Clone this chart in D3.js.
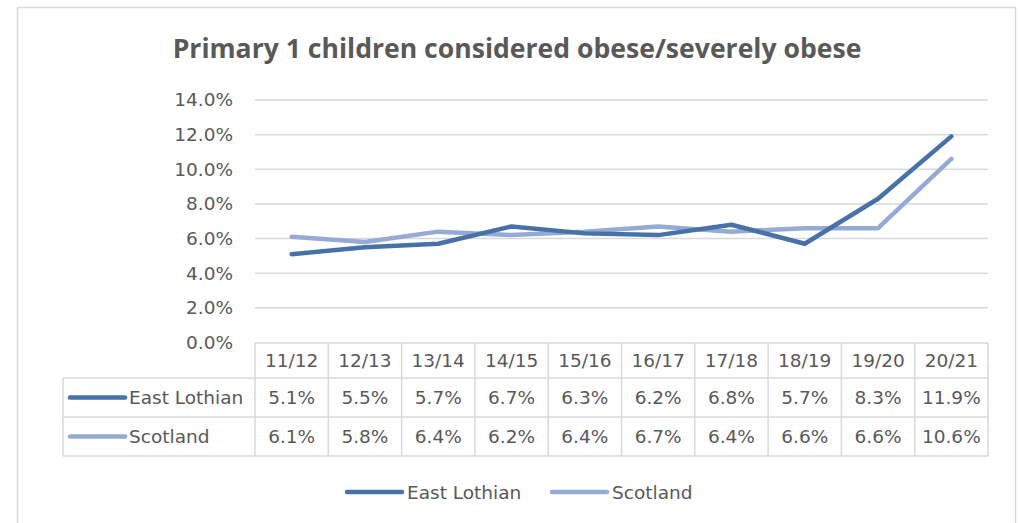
<!DOCTYPE html>
<html>
<head>
<meta charset="utf-8">
<script src="https://cdn.jsdelivr.net/npm/d3@7"></script>
<style>
  html, body { margin: 0; padding: 0; background: #ffffff; }
  svg { display: block; }
</style>
</head>
<body>
<svg id="chart" width="1020" height="523"></svg>
<script>
// School years and obesity rates (%) for Primary 1 children
const years = ["11/12", "12/13", "13/14", "14/15", "15/16", "16/17", "17/18", "18/19", "19/20", "20/21"];
const eastLothian = [5.1, 5.5, 5.7, 6.7, 6.3, 6.2, 6.8, 5.7, 8.3, 11.9];
const scotland = [6.1, 5.8, 6.4, 6.2, 6.4, 6.7, 6.4, 6.6, 6.6, 10.6];
const yTicks = [0, 2, 4, 6, 8, 10, 12, 14];
const seriesNames = ["East Lothian", "Scotland"];
const seriesColors = ["#4672a8", "#95abd4"];

const series = [
  { name: seriesNames[0], values: eastLothian, color: seriesColors[0] },
  { name: seriesNames[1], values: scotland, color: seriesColors[1] }
];

const svg = d3.select("#chart");
const textColor = "#595959";
const gridColor = "#d9d9d9";
const smallFont = "'DejaVu Sans', sans-serif";
const smallSize = 18.5;

// Outer frame
svg.append("rect")
  .attr("x", 17.5).attr("y", 7.5)
  .attr("width", 998).attr("height", 530)
  .attr("fill", "#ffffff")
  .attr("stroke", gridColor).attr("stroke-width", 1.5);

// Title: a tall bold face, squeezed horizontally to its span
const title = svg.append("text")
  .attr("text-anchor", "middle")
  .attr("fill", textColor)
  .attr("font-family", "'Open Sans', sans-serif")
  .attr("font-weight", 700)
  .attr("font-size", 27)
  .text("Primary 1 children considered obese/severely obese");
const tw = title.node().getComputedTextLength();
title.attr("transform", `translate(517,58) scale(${689 / tw},1)`);

// Scales
const plotLeft = 255, plotRight = 988, plotTop = 100, plotBottom = 342.5;
const x = d3.scaleBand().domain(years).range([plotLeft, plotRight]);
const y = d3.scaleLinear().domain([0, 14]).range([plotBottom, plotTop]);

// Gridlines
svg.append("g")
  .selectAll("line")
  .data(yTicks.filter(d => d > 0))
  .join("line")
  .attr("x1", plotLeft).attr("x2", plotRight)
  .attr("y1", d => y(d)).attr("y2", d => y(d))
  .attr("stroke", gridColor).attr("stroke-width", 1.5);

// Y axis labels
const yAxis = svg.append("g")
  .attr("transform", `translate(${plotLeft - 22},0)`)
  .call(d3.axisLeft(y).tickValues(yTicks).tickFormat(d => d.toFixed(1) + "%").tickSize(0).tickPadding(0));
yAxis.select(".domain").remove();
yAxis.selectAll("text")
  .attr("fill", textColor)
  .attr("font-family", smallFont)
  .attr("font-size", smallSize);

// Lines
const line = d3.line()
  .x((d, i) => x(years[i]) + x.bandwidth() / 2)
  .y(d => y(d));

svg.append("g")
  .selectAll("path")
  .data(series.slice().reverse())
  .join("path")
  .attr("d", d => line(d.values))
  .attr("fill", "none")
  .attr("stroke", d => d.color)
  .attr("stroke-width", 4.5)
  .attr("stroke-linecap", "round")
  .attr("stroke-linejoin", "round");

// Data table
const tableLeft = 63;
const rowEdges = [343, 378, 417, 456];
const tbl = svg.append("g").attr("fill", "none").attr("stroke", gridColor).attr("stroke-width", 1.5);

// horizontal rules
tbl.append("line").attr("x1", plotLeft).attr("x2", plotRight).attr("y1", rowEdges[0]).attr("y2", rowEdges[0]);
rowEdges.slice(1).forEach(ry => {
  tbl.append("line").attr("x1", tableLeft).attr("x2", plotRight).attr("y1", ry).attr("y2", ry);
});
// vertical rules
tbl.append("line").attr("x1", tableLeft).attr("x2", tableLeft).attr("y1", rowEdges[1]).attr("y2", rowEdges[3]);
years.forEach(yr => {
  const cx = x(yr);
  tbl.append("line").attr("x1", cx).attr("x2", cx).attr("y1", rowEdges[0]).attr("y2", rowEdges[3]);
});
tbl.append("line").attr("x1", plotRight).attr("x2", plotRight).attr("y1", rowEdges[0]).attr("y2", rowEdges[3]);

// header row
svg.append("g")
  .selectAll("text")
  .data(years)
  .join("text")
  .attr("x", d => x(d) + x.bandwidth() / 2)
  .attr("y", (rowEdges[0] + rowEdges[1]) / 2)
  .attr("dy", "0.36em")
  .attr("text-anchor", "middle")
  .attr("fill", textColor)
  .attr("font-family", smallFont)
  .attr("font-size", smallSize)
  .text(d => d);

// value rows with legend keys
series.forEach((s, si) => {
  const cy = (rowEdges[si + 1] + rowEdges[si + 2]) / 2;
  svg.append("line")
    .attr("x1", 70).attr("x2", 125)
    .attr("y1", cy).attr("y2", cy)
    .attr("stroke", s.color).attr("stroke-width", 4.5).attr("stroke-linecap", "round");
  svg.append("text")
    .attr("x", 129).attr("y", cy).attr("dy", "0.36em")
    .attr("fill", textColor)
    .attr("font-family", smallFont).attr("font-size", smallSize)
    .text(s.name);
  svg.append("g")
    .selectAll("text")
    .data(s.values)
    .join("text")
    .attr("x", (d, i) => x(years[i]) + x.bandwidth() / 2)
    .attr("y", cy).attr("dy", "0.36em")
    .attr("text-anchor", "middle")
    .attr("fill", textColor)
    .attr("font-family", smallFont).attr("font-size", smallSize)
    .text(d => d.toFixed(1) + "%");
});

// Bottom legend
const legendY = 492;
const legendX = [347, 552];
series.forEach((s, si) => {
  const lx = legendX[si];
  svg.append("line")
    .attr("x1", lx).attr("x2", lx + 55)
    .attr("y1", legendY).attr("y2", legendY)
    .attr("stroke", s.color).attr("stroke-width", 4.5).attr("stroke-linecap", "round");
  svg.append("text")
    .attr("x", lx + 60).attr("y", legendY).attr("dy", "0.36em")
    .attr("fill", textColor)
    .attr("font-family", smallFont).attr("font-size", smallSize)
    .text(s.name);
});
</script>
</body>
</html>
